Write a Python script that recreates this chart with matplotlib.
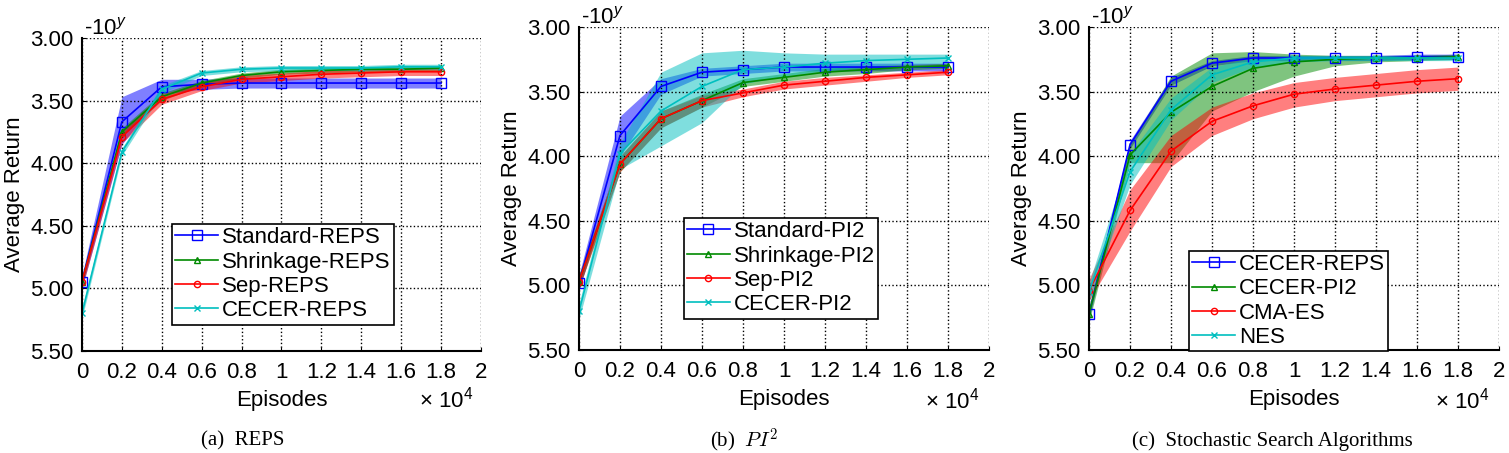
import numpy as np
import matplotlib
matplotlib.use("Agg")
import matplotlib.pyplot as plt

# episodes (x 10^4)
episodes = [0, 0.2, 0.4, 0.6, 0.8, 1.0, 1.2, 1.4, 1.6, 1.8]
xtick_vals = [0, 0.2, 0.4, 0.6, 0.8, 1.0, 1.2, 1.4, 1.6, 1.8, 2.0]
xtick_labels = ["0", "0.2", "0.4", "0.6", "0.8", "1", "1.2", "1.4", "1.6", "1.8", "2"]
ytick_vals = [3.0, 3.5, 4.0, 4.5, 5.0, 5.5]
ytick_labels = ["3.00", "3.50", "4.00", "4.50", "5.00", "5.50"]

# (a) REPS : mean, band low (towards 3.0), band high
reps_names = ["Standard-REPS", "Shrinkage-REPS", "Sep-REPS", "CECER-REPS"]
reps_mean = [
    [4.95, 3.67, 3.39, 3.37, 3.36, 3.36, 3.36, 3.36, 3.36, 3.36],
    [4.95, 3.75, 3.47, 3.36, 3.30, 3.27, 3.26, 3.25, 3.25, 3.24],
    [4.95, 3.79, 3.49, 3.39, 3.33, 3.31, 3.29, 3.28, 3.27, 3.27],
    [5.20, 3.91, 3.41, 3.28, 3.25, 3.24, 3.24, 3.24, 3.23, 3.23],
]
reps_lo = [
    [4.90, 3.47, 3.33, 3.33, 3.32, 3.32, 3.32, 3.32, 3.32, 3.32],
    [4.92, 3.72, 3.44, 3.34, 3.28, 3.25, 3.24, 3.23, 3.23, 3.22],
    [4.90, 3.74, 3.45, 3.36, 3.30, 3.28, 3.26, 3.25, 3.24, 3.24],
    [5.16, 3.88, 3.38, 3.26, 3.23, 3.22, 3.22, 3.22, 3.21, 3.21],
]
reps_hi = [
    [5.00, 3.85, 3.45, 3.41, 3.40, 3.40, 3.40, 3.40, 3.40, 3.40],
    [4.98, 3.78, 3.50, 3.38, 3.32, 3.29, 3.28, 3.27, 3.27, 3.26],
    [5.00, 3.84, 3.53, 3.42, 3.36, 3.34, 3.32, 3.31, 3.30, 3.30],
    [5.24, 3.94, 3.44, 3.30, 3.27, 3.26, 3.26, 3.26, 3.25, 3.25],
]

# (b) PI2
pi2_names = ["Standard-PI2", "Shrinkage-PI2", "Sep-PI2", "CECER-PI2"]
pi2_mean = [
    [4.98, 3.84, 3.46, 3.35, 3.33, 3.31, 3.31, 3.31, 3.31, 3.31],
    [4.97, 4.06, 3.71, 3.57, 3.43, 3.39, 3.35, 3.33, 3.31, 3.30],
    [4.97, 4.06, 3.71, 3.57, 3.51, 3.45, 3.42, 3.39, 3.37, 3.35],
    [5.20, 3.98, 3.65, 3.46, 3.33, 3.31, 3.28, 3.26, 3.25, 3.24],
]
pi2_lo = [
    [4.92, 3.69, 3.40, 3.32, 3.30, 3.28, 3.28, 3.28, 3.28, 3.28],
    [4.92, 4.00, 3.65, 3.52, 3.40, 3.36, 3.32, 3.30, 3.29, 3.28],
    [4.92, 4.00, 3.65, 3.53, 3.48, 3.42, 3.39, 3.37, 3.35, 3.33],
    [5.14, 3.90, 3.35, 3.20, 3.18, 3.20, 3.21, 3.21, 3.21, 3.21],
]
pi2_hi = [
    [5.04, 4.00, 3.52, 3.38, 3.36, 3.34, 3.34, 3.34, 3.34, 3.34],
    [5.02, 4.12, 3.78, 3.62, 3.46, 3.42, 3.38, 3.36, 3.33, 3.32],
    [5.02, 4.12, 3.78, 3.62, 3.54, 3.48, 3.45, 3.42, 3.39, 3.37],
    [5.26, 4.10, 3.92, 3.74, 3.44, 3.38, 3.34, 3.31, 3.29, 3.28],
]

# (c) stochastic search algorithms
ssa_names = ["CECER-REPS", "CECER-PI2", "CMA-ES", "NES"]
ssa_mean = [
    [5.22, 3.91, 3.42, 3.28, 3.24, 3.24, 3.24, 3.24, 3.23, 3.23],
    [5.22, 3.99, 3.66, 3.46, 3.32, 3.27, 3.25, 3.24, 3.24, 3.23],
    [5.04, 4.42, 3.96, 3.73, 3.61, 3.52, 3.48, 3.45, 3.42, 3.40],
    [5.05, 4.12, 3.64, 3.37, 3.27, 3.24, 3.24, 3.24, 3.24, 3.24],
]
ssa_lo = [
    [5.18, 3.88, 3.39, 3.26, 3.22, 3.22, 3.22, 3.22, 3.21, 3.21],
    [5.16, 3.90, 3.38, 3.20, 3.19, 3.21, 3.22, 3.22, 3.22, 3.21],
    [4.95, 4.26, 3.84, 3.62, 3.51, 3.43, 3.39, 3.36, 3.33, 3.31],
    [4.98, 3.98, 3.55, 3.31, 3.24, 3.22, 3.22, 3.22, 3.22, 3.22],
]
ssa_hi = [
    [5.26, 3.94, 3.45, 3.30, 3.26, 3.26, 3.26, 3.26, 3.25, 3.25],
    [5.28, 4.05, 4.05, 3.65, 3.50, 3.38, 3.30, 3.27, 3.26, 3.25],
    [5.12, 4.58, 4.08, 3.84, 3.71, 3.62, 3.57, 3.54, 3.51, 3.49],
    [5.12, 4.22, 3.72, 3.43, 3.31, 3.27, 3.26, 3.26, 3.26, 3.26],
]

colors = ["#0000ff", "#008a00", "#ff0000", "#00bfbf"]
markers = ["s", "^", "o", "x"]
msizes = [6.5, 5, 4.5, 4]

plt.rcParams["font.family"] = ["Liberation Sans", "DejaVu Sans"]
plt.rcParams["mathtext.fontset"] = "custom"
plt.rcParams["mathtext.rm"] = "Liberation Sans"
plt.rcParams["mathtext.it"] = "Liberation Sans:italic"

fig = plt.figure(figsize=(15.09, 4.53), dpi=100)

panels = [
    ([0.0543, 0.2252, 0.2644, 0.691], reps_names, reps_mean, reps_lo, reps_hi, (0.226, 0.406)),
    ([0.3837, 0.2274, 0.2717, 0.713], pi2_names, pi2_mean, pi2_lo, pi2_hi, (0.256, 0.409)),
    ([0.7217, 0.2274, 0.2717, 0.713], ssa_names, ssa_mean, ssa_lo, ssa_hi, (0.244, 0.307)),
]

fs = 16
for rect, names, means, los, his, leg_anchor in panels:
    ax = fig.add_axes(rect)
    for i in range(4):
        ax.fill_between(episodes, los[i], his[i], color=colors[i], alpha=0.5, lw=0)
    for i in range(4):
        ax.plot(episodes, means[i], color=colors[i], lw=1.2, marker=markers[i],
                markersize=msizes[i], markerfacecolor="none", markeredgewidth=1.0,
                label=names[i])
    ax.set_xlim(0, 2)
    ax.set_ylim(5.5, 3.0)
    ax.set_xticks(xtick_vals)
    ax.set_xticklabels(xtick_labels)
    ax.set_yticks(ytick_vals)
    ax.set_yticklabels(ytick_labels)
    ax.tick_params(direction="in", length=3, labelsize=fs)
    ax.tick_params(axis="x", pad=8)
    ax.tick_params(axis="y", pad=6)
    ax.grid(True, linestyle=":", color="black", lw=1.0)
    for s in ["top", "right"]:
        ax.spines[s].set_visible(False)
    for s in ["left", "bottom"]:
        ax.spines[s].set_linewidth(1.5)
    ax.set_xlabel("Episodes", fontsize=fs, labelpad=5)
    ax.set_ylabel("Average Return", fontsize=fs, labelpad=4)
    ax.text(0.005, 1.01, "-10$^y$", transform=ax.transAxes, fontsize=fs,
            ha="left", va="baseline")
    ax.text(0.845, -0.155, "× 10$^4$", transform=ax.transAxes, fontsize=fs,
            ha="left", va="center")
    leg = ax.legend(loc="upper left", bbox_to_anchor=leg_anchor, borderaxespad=0,
                    fontsize=fs, fancybox=False, edgecolor="black", framealpha=1,
                    handlelength=1.9, handletextpad=0.2, labelspacing=0.15,
                    borderpad=0.15)
    leg.get_frame().set_linewidth(1.2)

serif = ["Liberation Serif", "DejaVu Serif"]
fig.text(243 / 1509, 1 - 441 / 453, "(a)  REPS", fontsize=15, family=serif,
         ha="center", va="center")
fig.text(744 / 1509, 1 - 441 / 453, "(b)  $PI^2$", fontsize=15, family=serif,
         ha="center", va="center", math_fontfamily="cm")
fig.text(1272 / 1509, 1 - 441 / 453, "(c)  Stochastic Search Algorithms", fontsize=15,
         family=serif, ha="center", va="center")

fig.savefig("out.png", dpi=100)
